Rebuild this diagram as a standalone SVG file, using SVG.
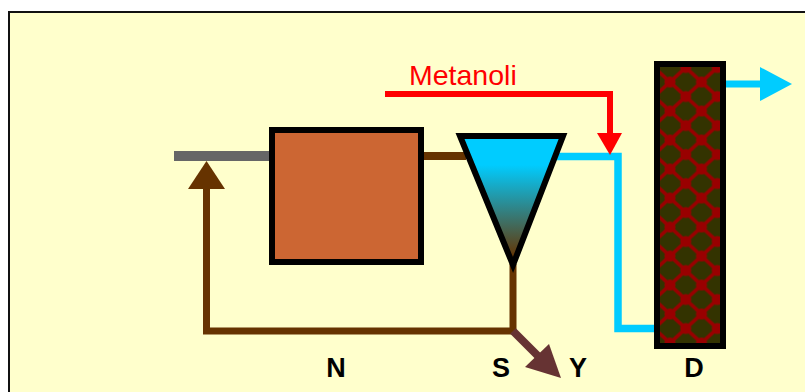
<svg xmlns="http://www.w3.org/2000/svg" width="805" height="392" viewBox="0 0 805 392">
<style>
.lbl{font-family:"Liberation Sans",Arial,sans-serif;font-size:27px;font-weight:bold;fill:#000;text-anchor:middle}
.red{font-family:"Liberation Sans",Arial,sans-serif;font-size:28.500px;fill:#f00}
.ln{fill:none;stroke-linejoin:miter;stroke-linecap:butt}
.nd{stroke:#000;stroke-width:6;stroke-miterlimit:10}
</style>
<defs>
<linearGradient id="settle" gradientUnits="userSpaceOnUse" x1="0" y1="165" x2="0" y2="258">
<stop offset="0" stop-color="#00ccff"/>
<stop offset="1" stop-color="#663300"/>
</linearGradient>
<pattern id="packing" patternUnits="userSpaceOnUse" x="654.25" y="67.5" width="31.5" height="29">
<rect width="31.5" height="29" fill="#333300"/>
<path d="M0 0L31.5 29M31.5 0L0 29" stroke="#990000" stroke-width="3.500"/>
<circle cx="0" cy="0" r="5.500" fill="#990000"/>
<circle cx="31.5" cy="0" r="5.500" fill="#990000"/>
<circle cx="0" cy="29" r="5.500" fill="#990000"/>
<circle cx="31.5" cy="29" r="5.500" fill="#990000"/>
<circle cx="15.75" cy="14.5" r="5.500" fill="#990000"/>
</pattern>
</defs>
<rect x="0" y="0" width="805" height="392" fill="#fff"/>
<rect x="9" y="12" width="800" height="384" fill="#ffffcc" stroke="#111" stroke-width="2"/>
<g id="connectors">
<path class="ln" d="M174 156H270" stroke="#666666" stroke-width="10"/>
<path class="ln" d="M424 156H466" stroke="#663300" stroke-width="8"/>
<path class="ln" d="M513 264V331H206.500V185" stroke="#663300" stroke-width="7"/>
<polygon points="206.500,161 188,189 225,189" fill="#663300"/>
<path class="ln" d="M513 331L546 364" stroke="#663333" stroke-width="8"/>
<polygon points="549,344 525,367 561,378" fill="#663333"/>
<path class="ln" d="M556 156.500H618V328.500H656" stroke="#00ccff" stroke-width="7.500"/>
<path class="ln" d="M385 94H610V135" stroke="#ff0000" stroke-width="6"/>
<polygon points="597,133 622,133 610,155" fill="#ff0000"/>
<path class="ln" d="M724 84H764" stroke="#00ccff" stroke-width="7"/>
<polygon points="760,67 760,101 792,84" fill="#00ccff"/>
</g>
<g id="node-n"><rect class="nd" x="272" y="130" width="149" height="132" fill="#cc6633"/></g>
<g id="node-s"><polygon class="nd" points="460,136 563,136 513,265" fill="url(#settle)"/></g>
<g id="node-d"><rect class="nd" x="657" y="64" width="66" height="282" fill="url(#packing)"/></g>
<g id="labels">
<text class="red" x="409" y="85">Metanoli</text>
<text class="lbl" x="336" y="377">N</text>
<text class="lbl" x="501" y="377">S</text>
<text class="lbl" x="578" y="377">Y</text>
<text class="lbl" x="694" y="377">D</text>
</g>
</svg>
